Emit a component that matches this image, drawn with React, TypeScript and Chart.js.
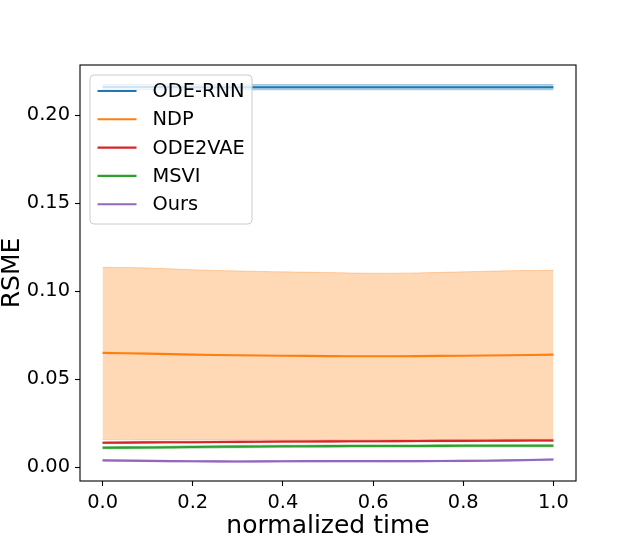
import { useEffect, useRef } from "react";
import { Chart, registerables } from "chart.js";

Chart.register(...registerables);

// normalized time samples
const times = [0, 0.1, 0.2, 0.3, 0.4, 0.5, 0.6, 0.7, 0.8, 0.9, 1.0];

const methods = ["ODE-RNN", "NDP", "ODE2VAE", "MSVI", "Ours"];
const colors = ["#1f77b4", "#ff7f0e", "#d62728", "#2ca02c", "#9467bd"];

// mean RSME per method
const odeRnnMean = [0.2159, 0.2159, 0.2158, 0.2158, 0.2158, 0.2158, 0.2158, 0.2158, 0.2158, 0.2158, 0.2158];
const ndpMean = [0.065, 0.0646, 0.064, 0.0637, 0.0634, 0.0632, 0.0631, 0.0632, 0.0634, 0.0637, 0.064];
const ode2vaeMean = [0.014, 0.0142, 0.0143, 0.0145, 0.0147, 0.0148, 0.0149, 0.015, 0.0151, 0.0152, 0.0153];
const msviMean = [0.0112, 0.0113, 0.0116, 0.0118, 0.012, 0.0121, 0.0122, 0.0122, 0.0123, 0.0123, 0.0123];
const oursMean = [0.004, 0.0037, 0.0035, 0.0034, 0.0035, 0.0036, 0.0036, 0.0036, 0.0037, 0.004, 0.0045];

// shaded band bounds
const odeRnnUpper = [0.2174, 0.2174, 0.2173, 0.2173, 0.2173, 0.2173, 0.2173, 0.2173, 0.2173, 0.2173, 0.2173];
const odeRnnLower = [0.2144, 0.2144, 0.2143, 0.2143, 0.2143, 0.2143, 0.2143, 0.2143, 0.2143, 0.2143, 0.2143];
const ndpUpper = [0.1136, 0.1132, 0.1122, 0.1115, 0.111, 0.1106, 0.1102, 0.1104, 0.111, 0.1116, 0.1119];
const ndpLower = [0.0158, 0.0157, 0.0157, 0.0157, 0.0157, 0.0157, 0.0158, 0.0158, 0.0159, 0.016, 0.016];
const ode2vaeUpper = [0.0145, 0.0147, 0.0148, 0.015, 0.0152, 0.0153, 0.0154, 0.0155, 0.0156, 0.0157, 0.0158];
const ode2vaeLower = [0.0135, 0.0137, 0.0138, 0.014, 0.0142, 0.0143, 0.0144, 0.0145, 0.0146, 0.0147, 0.0148];
const msviUpper = [0.0119, 0.012, 0.0123, 0.0125, 0.0127, 0.0128, 0.0129, 0.0129, 0.013, 0.013, 0.013];
const msviLower = [0.0105, 0.0106, 0.0109, 0.0111, 0.0113, 0.0114, 0.0115, 0.0115, 0.0116, 0.0116, 0.0116];
const oursUpper = [0.0044, 0.0041, 0.0039, 0.0038, 0.0039, 0.004, 0.004, 0.004, 0.0041, 0.0044, 0.0049];
const oursLower = [0.0036, 0.0033, 0.0031, 0.003, 0.0031, 0.0032, 0.0032, 0.0032, 0.0033, 0.0036, 0.0041];

const yTicks = [0, 0.05, 0.1, 0.15, 0.2];
const xTicks = [0, 0.2, 0.4, 0.6, 0.8, 1.0];

const FONT = "'DejaVu Sans', sans-serif";

function hexToRgba(hex: string, a: number) {
  const n = parseInt(hex.slice(1), 16);
  return `rgba(${(n >> 16) & 255}, ${(n >> 8) & 255}, ${n & 255}, ${a})`;
}

const toPoints = (ys: number[]) => times.map((t, i) => ({ x: t, y: ys[i] }));

const framePlugin = {
  id: "frameAndLegend",
  afterDatasetsDraw(chart: any) {
    const { ctx, chartArea } = chart;
    const { left, right, top, bottom } = chartArea;
    ctx.save();
    // spines
    ctx.strokeStyle = "#000";
    ctx.lineWidth = 1.1;
    ctx.strokeRect(left, top, right - left, bottom - top);

    // legend box
    const bx = 90, by = 75, bw = 162, bh = 149, r = 4;
    ctx.beginPath();
    ctx.moveTo(bx + r, by);
    ctx.lineTo(bx + bw - r, by);
    ctx.arcTo(bx + bw, by, bx + bw, by + r, r);
    ctx.lineTo(bx + bw, by + bh - r);
    ctx.arcTo(bx + bw, by + bh, bx + bw - r, by + bh, r);
    ctx.lineTo(bx + r, by + bh);
    ctx.arcTo(bx, by + bh, bx, by + bh - r, r);
    ctx.lineTo(bx, by + r);
    ctx.arcTo(bx, by, bx + r, by, r);
    ctx.closePath();
    ctx.fillStyle = "rgba(255,255,255,0.8)";
    ctx.fill();
    ctx.strokeStyle = "#cccccc";
    ctx.lineWidth = 1;
    ctx.stroke();

    ctx.font = `19.4px ${FONT}`;
    ctx.textBaseline = "middle";
    ctx.textAlign = "left";
    methods.forEach((name, i) => {
      const y = 91 + i * 28.3;
      ctx.strokeStyle = colors[i];
      ctx.lineWidth = 2.1;
      ctx.beginPath();
      ctx.moveTo(97.5, y);
      ctx.lineTo(136.5, y);
      ctx.stroke();
      ctx.fillStyle = "#000";
      ctx.fillText(name, 152.5, y + 1);
    });

    // axis titles
    ctx.font = `25px ${FONT}`;
    ctx.textAlign = "center";
    ctx.textBaseline = "alphabetic";
    ctx.fillText("normalized time", (left + right) / 2, 532.5);
    ctx.save();
    ctx.translate(19, (top + bottom) / 2);
    ctx.rotate(-Math.PI / 2);
    ctx.fillText("RSME", 0, 0);
    ctx.restore();
    ctx.restore();
  }
};

export default function App() {
  const chartRef = useRef<HTMLCanvasElement>(null);
  const chartInstance = useRef<Chart | null>(null);

  useEffect(() => {
    if (!chartRef.current) return;
    if (chartInstance.current) chartInstance.current.destroy();
    const ctx = chartRef.current.getContext("2d");
    if (!ctx) return;

    const means = [odeRnnMean, ndpMean, ode2vaeMean, msviMean, oursMean];
    const uppers = [odeRnnUpper, ndpUpper, ode2vaeUpper, msviUpper, oursUpper];
    const lowers = [odeRnnLower, ndpLower, ode2vaeLower, msviLower, oursLower];

    const datasets: any[] = [];
    methods.forEach((name, i) => {
      const band = hexToRgba(colors[i], 0.3);
      datasets.push({
        label: name + " upper",
        data: toPoints(uppers[i]),
        borderColor: band,
        borderWidth: 1,
        backgroundColor: band,
        pointRadius: 0,
        fill: "+1",
        tension: 0.3,
        order: 20 - i
      });
      datasets.push({
        label: name + " lower",
        data: toPoints(lowers[i]),
        borderColor: band,
        borderWidth: 1,
        pointRadius: 0,
        fill: false,
        tension: 0.3,
        order: 20 - i
      });
    });
    methods.forEach((name, i) => {
      datasets.push({
        label: name,
        data: toPoints(means[i]),
        borderColor: colors[i],
        borderWidth: 2.1,
        pointRadius: 0,
        fill: false,
        tension: 0.3,
        order: 10 - i
      });
    });

    chartInstance.current = new Chart(ctx, {
      type: "line",
      data: { datasets },
      plugins: [framePlugin],
      options: {
        responsive: false,
        animation: false,
        layout: { padding: { top: 65, right: 64, left: 0, bottom: 0 } },
        plugins: {
          legend: { display: false },
          tooltip: { enabled: false }
        },
        scales: {
          x: {
            type: "linear",
            min: -0.05,
            max: 1.05,
            afterFit: (scale: any) => { scale.height = 59; },
            afterBuildTicks: (scale: any) => { scale.ticks = xTicks.map(v => ({ value: v })); },
            grid: { drawOnChartArea: false, drawTicks: true, tickLength: 5, tickColor: "#000", tickWidth: 1.1 },
            border: { display: false },
            ticks: {
              color: "#000",
              font: { family: FONT, size: 19.4 },
              padding: 5,
              maxRotation: 0,
              callback: (v: any) => Number(v).toFixed(1)
            }
          },
          y: {
            type: "linear",
            min: -0.0077,
            max: 0.2284,
            afterFit: (scale: any) => { scale.width = 80; },
            afterBuildTicks: (scale: any) => { scale.ticks = yTicks.map(v => ({ value: v })); },
            grid: { drawOnChartArea: false, drawTicks: true, tickLength: 5, tickColor: "#000", tickWidth: 1.1 },
            border: { display: false },
            ticks: {
              color: "#000",
              font: { family: FONT, size: 19.4 },
              padding: 5,
              callback: (v: any) => Number(v).toFixed(2)
            }
          }
        }
      }
    });

    return () => {
      if (chartInstance.current) {
        chartInstance.current.destroy();
        chartInstance.current = null;
      }
    };
  }, []);

  return (
    <div style={{ position: "absolute", left: 0, top: 0, width: 640, height: 540, background: "#fff" }}>
      <canvas ref={chartRef} width={640} height={540}></canvas>
    </div>
  );
}
